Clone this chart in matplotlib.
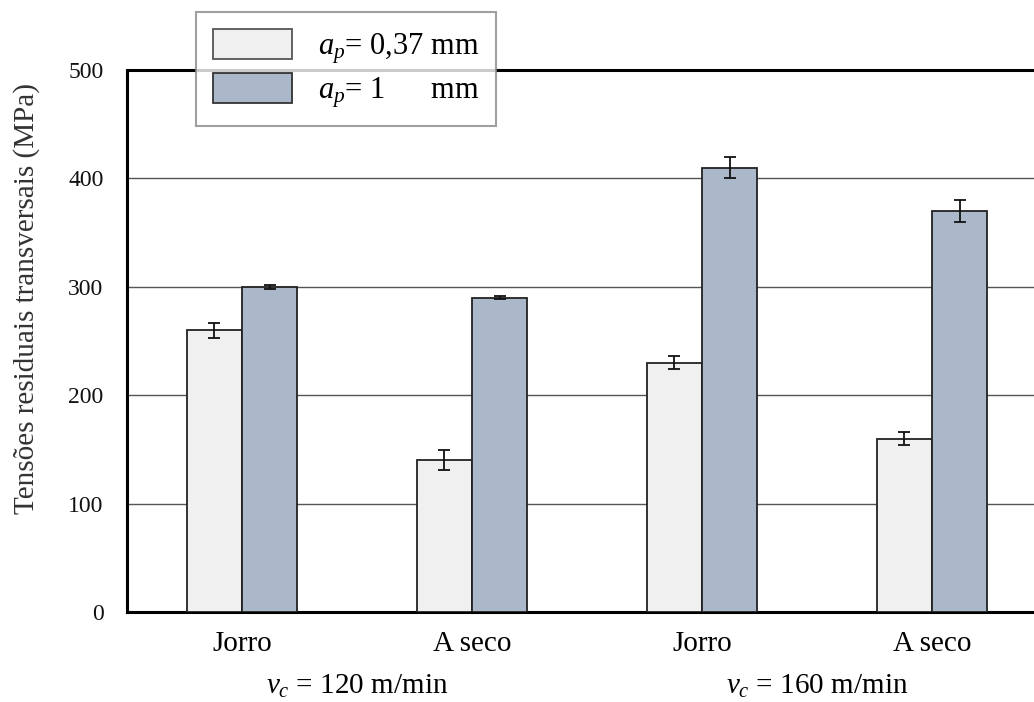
import numpy as np
import matplotlib.pyplot as plt
from matplotlib.patches import Patch

plt.rcParams['font.family'] = 'Liberation Serif'
plt.rcParams['mathtext.fontset'] = 'custom'
plt.rcParams['mathtext.rm'] = 'Liberation Serif'
plt.rcParams['mathtext.it'] = 'Liberation Serif:italic'

categories = ['Jorro', 'A seco', 'Jorro', 'A seco']
groups = ['$v_c$ = 120 m/min', '$v_c$ = 160 m/min']
series_labels = ['$a_p$= 0,37 mm', '$a_p$= 1      mm']
ap037 = [260, 140, 230, 160]
ap037_err = [7, 9, 6, 6]
ap1 = [300, 290, 410, 370]
ap1_err = [2, 1.5, 10, 10]

light = '#f0f0f0'
dark = '#abb8c9'

fig = plt.figure(figsize=(10.34, 7.02), dpi=100)
ax = fig.add_axes([127/1034, 90/702, 920/1034, 542/702])

x = np.arange(len(categories))
w = 0.24
ekw = dict(ecolor='#111111', elinewidth=1.3, capsize=4.3, capthick=1.3)
ax.bar(x - w/2, ap037, w, yerr=ap037_err, color=light, edgecolor='#222222', linewidth=1.3, error_kw=ekw, zorder=3)
ax.bar(x + w/2, ap1, w, yerr=ap1_err, color=dark, edgecolor='#222222', linewidth=1.3, error_kw=ekw, zorder=3)

ax.set_xlim(-0.5, 3.5)
ax.set_ylim(0, 500)
ax.set_yticks([0, 100, 200, 300, 400, 500])
ax.tick_params(axis='y', labelsize=17, length=0, pad=17, labelcolor='#111111')
ax.set_xticks(x)
ax.set_xticklabels(categories, fontsize=21)
ax.tick_params(axis='x', length=0, pad=14)
ax.grid(axis='y', color='#555555', linewidth=1.0, zorder=0)
ax.set_axisbelow(True)
for s in ['left', 'top', 'bottom']:
    ax.spines[s].set_linewidth(2.2)
ax.spines['right'].set_visible(False)

ax.set_ylabel('Tensões residuais transversais (MPa)', fontsize=21, color='#333333')
ax.yaxis.set_label_coords(-0.095, 0.579)

for i, g in enumerate(groups):
    ax.text(2*i + 0.5, -0.137, g, transform=ax.get_xaxis_transform(), ha='center', va='center', fontsize=21)

handles = [Patch(facecolor=light, edgecolor='#555555', linewidth=1.3),
           Patch(facecolor=dark, edgecolor='#333333', linewidth=1.3)]
leg = fig.legend(handles, series_labels, loc='upper left', bbox_to_anchor=(196/1034, 1 - 12/702),
                 fontsize=22, frameon=True, fancybox=False, edgecolor='#888888',
                 handlelength=2.6, handleheight=1.15, handletextpad=0.85, borderpad=0.55,
                 labelspacing=0.22, borderaxespad=0)
leg.get_frame().set_linewidth(1.5)
leg.set_zorder(10)

fig.savefig('out.png', dpi=100)
